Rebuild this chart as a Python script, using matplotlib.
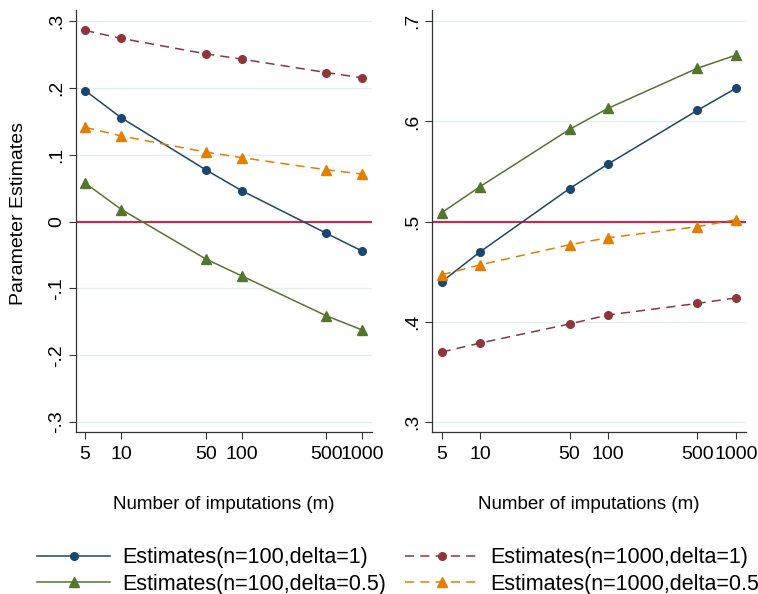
import matplotlib

matplotlib.use("Agg")
import matplotlib.pyplot as plt

plt.rcParams["font.family"] = ["Liberation Sans", "DejaVu Sans"]

m_values = [5, 10, 50, 100, 500, 1000]
m_labels = ["5", "10", "50", "100", "500", "1000"]

# left panel
left_n100_d1 = [0.196, 0.155, 0.0775, 0.046, -0.0175, -0.0445]
left_n100_d05 = [0.0575, 0.018, -0.056, -0.0815, -0.141, -0.1625]
left_n1000_d1 = [0.286, 0.274, 0.251, 0.243, 0.223, 0.215]
left_n1000_d05 = [0.141, 0.128, 0.104, 0.0955, 0.0775, 0.071]

# right panel
right_n100_d1 = [0.440, 0.470, 0.533, 0.5575, 0.611, 0.633]
right_n100_d05 = [0.509, 0.535, 0.592, 0.613, 0.653, 0.666]
right_n1000_d1 = [0.370, 0.379, 0.398, 0.407, 0.4185, 0.424]
right_n1000_d05 = [0.447, 0.457, 0.477, 0.484, 0.495, 0.502]

left_yticks = [-0.3, -0.2, -0.1, 0, 0.1, 0.2, 0.3]
left_ylabels = ["-.3", "-.2", "-.1", "0", ".1", ".2", ".3"]
right_yticks = [0.3, 0.4, 0.5, 0.6, 0.7]
right_ylabels = [".3", ".4", ".5", ".6", ".7"]

NAVY = "#1a476f"
MAROON = "#90353b"
GREEN = "#55752f"
ORANGE = "#e37e00"
REF = "#d8244a"
GRID = "#e4eef0"

series_styles = [
    ("Estimates(n=100,delta=1)", NAVY, "o", "-", 5.5),
    ("Estimates(n=100,delta=0.5)", GREEN, "^", "-", 7),
    ("Estimates(n=1000,delta=1)", MAROON, "o", (0, (6, 4)), 5.5),
    ("Estimates(n=1000,delta=0.5)", ORANGE, "^", (0, (6, 4)), 7),
]

fig = plt.figure(figsize=(7.58, 5.94), dpi=100)
ax1 = fig.add_axes([0.1003, 0.2727, 0.3905, 0.7104])
ax2 = fig.add_axes([0.5699, 0.2727, 0.4143, 0.7104])

panels = [
    (ax1, [left_n100_d1, left_n100_d05, left_n1000_d1, left_n1000_d05], 0.0,
     (-0.315, 0.3165), left_yticks, left_ylabels),
    (ax2, [right_n100_d1, right_n100_d05, right_n1000_d1, right_n1000_d05], 0.5,
     (0.2903, 0.711), right_yticks, right_ylabels),
]

handles = []
for ax, data, ref, ylim, yt, yl in panels:
    for v in yt:
        ax.axhline(v, color=GRID, lw=1, zorder=0)
    ax.axhline(ref, color=REF, lw=1.5, zorder=1)
    hs = []
    for vals, (lab, col, mk, ls, ms) in zip(data, series_styles):
        h, = ax.plot(m_values, vals, color=col, marker=mk, ms=ms, ls=ls, lw=1.1,
                     label=lab, zorder=3)
        hs.append(h)
    handles = hs
    ax.set_xscale("log")
    ax.set_xlim(4.2, 1200)
    ax.set_xticks(m_values)
    ax.set_xticklabels(m_labels)
    ax.minorticks_off()
    ax.set_ylim(*ylim)
    ax.set_yticks(yt)
    ax.set_yticklabels(yl, rotation=90, va="center")
    ax.tick_params(axis="both", labelsize=14, color="#333333", length=5, width=0.8)
    ax.tick_params(axis="y", pad=3)
    ax.tick_params(axis="x", pad=5)
    ax.spines["top"].set_visible(False)
    ax.spines["right"].set_visible(False)
    for s in ("left", "bottom"):
        ax.spines[s].set_color("#333333")
        ax.spines[s].set_linewidth(0.9)
    ax.set_xlabel("Number of imputations (m)", fontsize=13.5, labelpad=24)

ax1.set_ylabel("Parameter Estimates", fontsize=14)
ax1.yaxis.set_label_coords(-0.166, 0.519)

# last legend entry runs past the right edge, as in the original
fig.legend(handles=handles, loc="center left", bbox_to_anchor=(37 / 758, 1 - 571 / 594),
           ncol=2, frameon=False, fontsize=15.5, handlelength=3.4, handletextpad=0.55,
           columnspacing=0.9, labelspacing=0.25, borderpad=0, borderaxespad=0)

fig.savefig("out.png", dpi=100)
plt.close(fig)
